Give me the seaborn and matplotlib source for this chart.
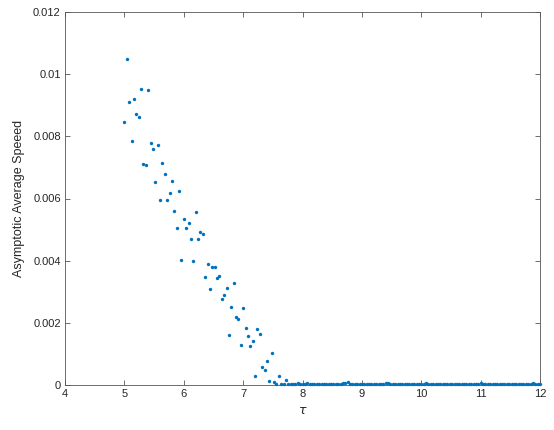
import numpy as np
import pandas as pd
import matplotlib
matplotlib.use("Agg")
import matplotlib.pyplot as plt
import seaborn as sns

# tau grid: 5.00 .. 12.00 step 0.04 (176 points)
tau = [round(5.0 + 0.04 * i, 2) for i in range(176)]

speed_head = [
    0.00847, 0.01050, 0.00911, 0.00785, 0.00920, 0.00872, 0.00861, 0.00953,
    0.00712, 0.00708, 0.00950, 0.00778, 0.00759, 0.00652, 0.00772, 0.00596,
    0.00715, 0.00680, 0.00595, 0.00618, 0.00655, 0.00559, 0.00505, 0.00624,
    0.00402, 0.00533, 0.00506, 0.00520, 0.00469, 0.00400, 0.00556, 0.00469,
    0.00491, 0.00485, 0.00347, 0.00388, 0.00309, 0.00380, 0.00380, 0.00345,
    0.00350, 0.00276, 0.00290, 0.00311, 0.00160, 0.00251, 0.00327, 0.00219,
    0.00212, 0.00128, 0.00247, 0.00182, 0.00157, 0.00125, 0.00141, 0.00030,
    0.00179, 0.00163, 0.00059, 0.00049, 0.00078, 0.00012, 0.00104, 0.00009,
    0.00003, 0.00028, 0.00002, 0.00004, 0.00015,
]
speed_tail = [
    0.00004, 0.00002, 0.00003, 0.00002, 0.00005, 0.00003, 0.00002, 0.00003,
    0.00006, 0.00002, 0.00003, 0.00002, 0.00003, 0.00002, 0.00003, 0.00002,
    0.00002, 0.00003, 0.00002, 0.00003, 0.00002, 0.00003, 0.00004, 0.00005,
    0.00007, 0.00010, 0.00004, 0.00003, 0.00002, 0.00003, 0.00002, 0.00003,
    0.00002, 0.00003, 0.00002, 0.00003, 0.00003, 0.00002, 0.00003, 0.00002,
    0.00004, 0.00005, 0.00007, 0.00004, 0.00002, 0.00003, 0.00002, 0.00004,
    0.00002, 0.00003, 0.00002, 0.00003, 0.00002, 0.00003, 0.00002, 0.00003,
    0.00004, 0.00002, 0.00006, 0.00003, 0.00002, 0.00003, 0.00004, 0.00002,
    0.00002, 0.00003, 0.00002, 0.00004, 0.00003, 0.00002, 0.00002, 0.00003,
    0.00002, 0.00003, 0.00002, 0.00003, 0.00002, 0.00003, 0.00002, 0.00003,
    0.00004, 0.00006, 0.00003, 0.00002, 0.00003, 0.00002, 0.00003, 0.00002,
    0.00003, 0.00002, 0.00003, 0.00002, 0.00003, 0.00002, 0.00003, 0.00003,
    0.00002, 0.00003, 0.00003, 0.00002, 0.00003, 0.00003, 0.00004, 0.00006,
    0.00003, 0.00004, 0.00003,
]
speed = speed_head + speed_tail

x_ticks = [4, 5, 6, 7, 8, 9, 10, 11, 12]
y_ticks = [0, 0.002, 0.004, 0.006, 0.008, 0.01, 0.012]
y_tick_labels = ["0", "0.002", "0.004", "0.006", "0.008", "0.01", "0.012"]

df = pd.DataFrame({"tau": tau[:len(speed)], "speed": speed})

sns.set_theme(style="white")
plt.rcParams["font.family"] = ["Liberation Sans", "DejaVu Sans"]

fig = plt.figure(figsize=(5.54, 4.30), dpi=100)
ax = fig.add_axes([65 / 554, 1 - 385 / 430, 475 / 554, 373 / 430])

sns.scatterplot(data=df, x="tau", y="speed", ax=ax, color="#0072BD",
                s=6, linewidth=0, marker="o", legend=False,
                zorder=5, clip_on=False)

ax.set_xlim(4, 12)
ax.set_ylim(0, 0.012)
ax.set_xticks(x_ticks)
ax.set_xticklabels([str(t) for t in x_ticks])
ax.set_yticks(y_ticks)
ax.set_yticklabels(y_tick_labels)

edge = "#262626"
for sp in ax.spines.values():
    sp.set_visible(True)
    sp.set_color("#555555")
    sp.set_linewidth(0.6)
    sp.set_zorder(2)
ax.tick_params(direction="in", length=3.5, width=0.6, color="#555555",
               labelsize=8, labelcolor=edge, top=True, right=True,
               bottom=True, left=True, pad=3)

ax.set_xlabel(r"$\tau$", fontsize=9, color=edge, labelpad=4)
ax.set_ylabel("Asymptotic Average Speeed", fontsize=9, color=edge, labelpad=6)

fig.savefig("out.png", dpi=100, facecolor="white")
